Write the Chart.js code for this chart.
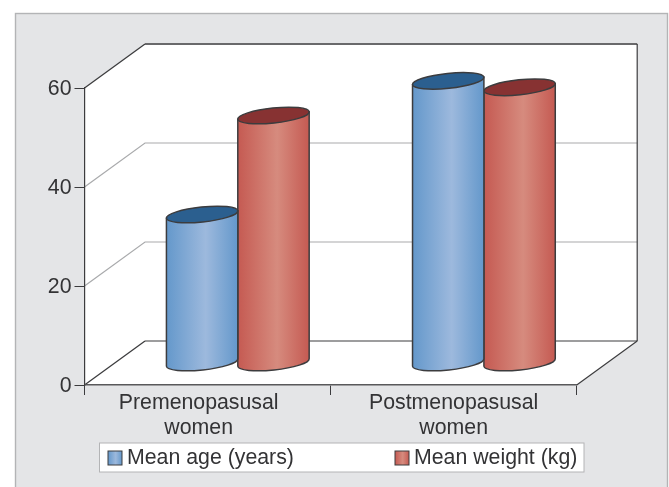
<!DOCTYPE html>
<html>
<head>
<meta charset="utf-8">
<style>
  html, body { margin: 0; padding: 0; background: #fff; }
  canvas { display: block; }
</style>
<script src="https://cdn.jsdelivr.net/npm/chart.js@4"></script>
</head>
<body>
<canvas id="chart" width="669" height="487"></canvas>
<script>
const categories = [['Premenopasusal', 'women'], ['Postmenopasusal', 'women']];
const seriesNames = ['Mean age (years)', 'Mean weight (kg)'];
const meanAge = [30, 57];
const meanWeight = [50, 55.7];
const yTicks = [0, 20, 40, 60];

// the 3d box: how far the back wall sits from the front frame
const depthX = 60.5;
const depthY = -44;

const blueShades = { edge: '#6498cb', mid: '#9db9dd', top: '#2b5f8f' };
const redShades = { edge: '#c55a52', mid: '#d68b7e', top: '#873232' };
const outline = '#3c3c3e';
const textColor = '#333335';
const fontFamily = '"Liberation Sans", Arial, sans-serif';
const fontSize = 21.3;

function shadeGradient(ctx, left, right, shades) {
    const g = ctx.createLinearGradient(left, 0, right, 0);
    g.addColorStop(0, shades.edge);
    g.addColorStop(0.55, shades.mid);
    g.addColorStop(1, shades.edge);
    return g;
}

function line(ctx, x1, y1, x2, y2, color, width) {
    ctx.strokeStyle = color;
    ctx.lineWidth = width;
    ctx.beginPath();
    ctx.moveTo(x1, y1);
    ctx.lineTo(x2, y2);
    ctx.stroke();
}

const panelAndWalls = {
    id: 'panelAndWalls',
    beforeDraw(chart) {
        const { ctx, chartArea: a, scales } = chart;
        ctx.save();
        ctx.fillStyle = '#e4e5e7';
        ctx.fillRect(15, 13, 653, 474);
        ctx.strokeStyle = '#b3b4b6';
        ctx.lineWidth = 1.4;
        ctx.strokeRect(15.5, 13.5, 652, 476);

        // back wall, left wall and floor are all white
        ctx.fillStyle = '#fff';
        ctx.beginPath();
        ctx.moveTo(a.left, a.top);
        ctx.lineTo(a.left + depthX, a.top + depthY);
        ctx.lineTo(a.right + depthX, a.top + depthY);
        ctx.lineTo(a.right + depthX, a.bottom + depthY);
        ctx.lineTo(a.right, a.bottom);
        ctx.lineTo(a.left, a.bottom);
        ctx.closePath();
        ctx.fill();

        yTicks.filter(v => v > 0 && v < 60).forEach(v => {
            const y = scales.y.getPixelForValue(v);
            ctx.strokeStyle = '#a9aaac';
            ctx.lineWidth = 1.2;
            ctx.beginPath();
            ctx.moveTo(a.left, y);
            ctx.lineTo(a.left + depthX, y + depthY);
            ctx.lineTo(a.right + depthX, y + depthY);
            ctx.stroke();
        });

        const backL = a.left + depthX, backR = a.right + depthX;
        const backT = a.top + depthY, backB = a.bottom + depthY;
        line(ctx, a.left, a.top, backL, backT, outline, 1.2);
        line(ctx, backL, backT, backR, backT, '#69696b', 1.8);
        line(ctx, backR, backT, backR, backB, outline, 1.2);
        line(ctx, backL, backB, backR, backB, outline, 1.2);
        line(ctx, a.left, a.bottom, backL, backB, outline, 1.2);
        line(ctx, a.right, a.bottom, backR, backB, outline, 1.2);
        ctx.restore();
    },
    // bars are replaced by cylinders standing in the middle of the floor
    beforeDatasetDraw(chart, args) {
        const { ctx } = chart;
        const shades = args.index === 0 ? blueShades : redShades;
        const rot = -6 * Math.PI / 180;
        ctx.save();
        ctx.strokeStyle = outline;
        ctx.lineWidth = 1.5;
        args.meta.data.forEach(bar => {
            const p = bar.getProps(['x', 'y', 'base', 'width'], true);
            const cx = p.x + depthX / 2;
            const yTop = p.y + depthY / 2;
            const yBot = p.base + depthY / 2;
            const left = cx - p.width / 2;
            const right = cx + p.width / 2;
            const rx = p.width / 2 / Math.cos(rot);
            const ry = 7.5;
            const rise = rx * Math.sin(rot);

            ctx.beginPath();
            ctx.moveTo(left, yTop - rise);
            ctx.lineTo(left, yBot - rise);
            ctx.ellipse(cx, yBot, rx, ry, rot, Math.PI, 0, true);
            ctx.lineTo(right, yTop + rise);
            ctx.closePath();
            ctx.fillStyle = shadeGradient(ctx, left, right, shades);
            ctx.fill();
            ctx.stroke();

            ctx.beginPath();
            ctx.ellipse(cx, yTop, rx, ry, rot, 0, Math.PI * 2);
            ctx.fillStyle = shades.top;
            ctx.fill();
            ctx.stroke();
        });
        ctx.restore();
        return false;
    },
    afterDraw(chart) {
        const { ctx } = chart;
        ctx.save();
        ctx.fillStyle = '#fff';
        ctx.fillRect(99.5, 443, 484.5, 29);
        ctx.strokeStyle = '#b3b4b6';
        ctx.lineWidth = 1;
        ctx.strokeRect(99.5, 443, 484.5, 29);

        ctx.font = fontSize + 'px ' + fontFamily;
        ctx.textBaseline = 'alphabetic';
        [[108, blueShades], [395, redShades]].forEach(([x, shades], i) => {
            ctx.fillStyle = shadeGradient(ctx, x, x + 14, shades);
            ctx.fillRect(x, 451, 14, 14);
            ctx.strokeStyle = outline;
            ctx.strokeRect(x, 451, 14, 14);
            ctx.fillStyle = textColor;
            ctx.fillText(seriesNames[i], x + 19, 464);
        });
        ctx.restore();
    }
};

new Chart(document.getElementById('chart'), {
    type: 'bar',
    data: {
        labels: categories,
        datasets: [
            { label: seriesNames[0], data: meanAge, backgroundColor: blueShades.edge },
            { label: seriesNames[1], data: meanWeight, backgroundColor: redShades.edge }
        ]
    },
    options: {
        responsive: false,
        animation: false,
        categoryPercentage: 0.58,
        barPercentage: 1,
        layout: { padding: { top: 88, right: 92.3, left: 0, bottom: 0 } },
        plugins: { legend: { display: false }, tooltip: { enabled: false } },
        scales: {
            x: {
                afterFit: scale => { scale.height = 102; },
                grid: { drawOnChartArea: false, tickLength: 10, color: outline },
                border: { color: '#59595b', width: 1.6 },
                ticks: {
                    color: textColor,
                    font: { family: fontFamily, size: fontSize },
                    padding: -5,
                    maxRotation: 0,
                    // first label sits a little left of its group in the original
                    callback: (v, i) => i === 0 ? categories[0].map(s => s + '   ') : categories[i]
                }
            },
            y: {
                min: 0,
                max: 60,
                afterFit: scale => { scale.width = 84.5; },
                afterBuildTicks: scale => { scale.ticks = yTicks.map(value => ({ value })); },
                grid: { drawOnChartArea: false, tickLength: 10, color: outline },
                border: { color: outline, width: 1.2 },
                ticks: {
                    color: textColor,
                    font: { family: fontFamily, size: fontSize },
                    padding: 3,
                    labelOffset: 1.5
                }
            }
        }
    },
    plugins: [panelAndWalls]
});
</script>
</body>
</html>
